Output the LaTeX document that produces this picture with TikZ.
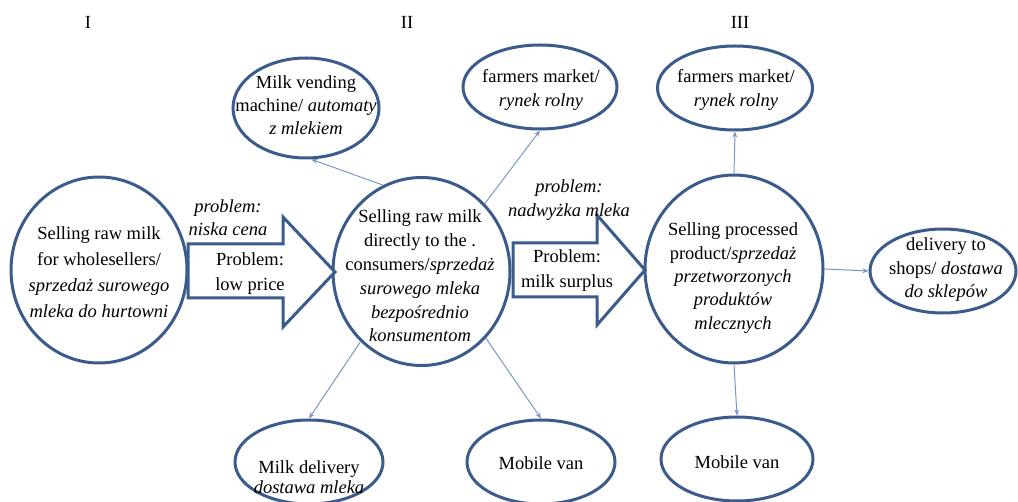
\documentclass[tikz,border=0pt]{standalone}
\usepackage{fontspec}
\setmainfont{Liberation Serif}
\usetikzlibrary{shapes.geometric,arrows.meta}
\definecolor{ring}{HTML}{3B5B8C}
\definecolor{link}{HTML}{7B96C4}
\begin{document}
\begin{tikzpicture}[x=1pt,y=-1pt,
  oval/.style={ellipse,draw=ring,line width=3pt,fill=white,inner sep=0pt},
  txt/.style={align=center,inner sep=0pt,font=\fontsize{18.5}{#1}\selectfont},
  txt/.default=24,
  conn/.style={draw=link,line width=1pt,-{Stealth[length=6pt,width=5pt,open]}},
  bigarrow/.style={draw=ring,line width=3pt,fill=white,line join=miter}
]
\useasboundingbox (0,0) rectangle (1018,502);

% roman numerals
\node[txt] (n1) at (88,22) {I};
\node[txt] (n2) at (407,22) {II};
\node[txt] (n3) at (740,22) {III};

% main ellipses
\node[oval,minimum width=176pt,minimum height=186pt] (left) at (99,270) {};
\node[oval,minimum width=177pt,minimum height=188pt] (mid) at (421.5,271.5) {};
\node[oval,minimum width=178pt,minimum height=188pt] (right) at (734,269) {};
\node[oval,minimum width=146pt,minimum height=84pt] (deliv) at (943,271) {};

% satellite ellipses
\node[oval,minimum width=146pt,minimum height=100pt] (vend) at (306,108) {};
\node[oval,minimum width=154pt,minimum height=84pt] (fm1) at (540,87) {};
\node[oval,minimum width=155pt,minimum height=84pt] (fm2) at (735,88) {};
\node[oval,minimum width=148pt,minimum height=84pt] (mdel) at (309,462) {};
\node[oval,minimum width=148pt,minimum height=84pt] (mv1) at (541,462) {};
\node[oval,minimum width=152pt,minimum height=84pt] (mv2) at (737,459) {};

% big arrows
\draw[bigarrow] (188,244) -- (283,244) -- (283,217) -- (335,272) -- (283,327) -- (283,298) -- (188,298) -- cycle;
\draw[bigarrow] (513,243) -- (597,243) -- (597,215) -- (645,270) -- (597,325) -- (597,297) -- (513,297) -- cycle;

% texts
\node[txt=26] (tleft) at (99,272) {Selling raw milk\\for wholesellers/\\\textit{sprzedaż surowego}\\\textit{mleka do hurtowni}};
\node[txt=23.8] (tmid) at (420,276) {Selling raw milk\\directly to the .\\consumers/\textit{sprzedaż}\\\textit{surowego mleka}\\\textit{bezpośrednio}\\\textit{konsumentom}};
\node[txt=23.3] (tright) at (733,278) {Selling processed\\product/\textit{sprzedaż}\\\textit{przetworzonych}\\\textit{produktów}\\\textit{mlecznych}};
\node[txt=23.5] (tdeliv) at (946,270) {delivery to\\shops/ \textit{dostawa}\\\textit{do sklepów}};
\node[txt=23] (tvend) at (306,105) {Milk vending\\machine/ \textit{automaty}\\\textit{z mlekiem}};
\node[txt=24] (tfm1) at (541,90) {farmers market/\\\textit{rynek rolny}};
\node[txt=24] (tfm2) at (736,90) {farmers market/\\\textit{rynek rolny}};
\node[txt=20] (tmdel) at (309,477) {Milk delivery\\\textit{dostawa mleka}};
\node[txt] (tmv1) at (541,463) {Mobile van};
\node[txt] (tmv2) at (737,462) {Mobile van};

% problem labels
\node[txt=23] (p1) at (228,218) {\textit{problem:}\\\textit{niska cena}};
\node[txt=25] (q1) at (250,274) {Problem:\\low price};
\node[txt=24] (p2) at (569,200) {\textit{problem:}\\\textit{nadwyżka mleka}};
\node[txt=25] (q2) at (567,271) {Problem:\\milk surplus};

% connectors
\draw[conn] (mid.114) -- (vend.-84);
\draw[conn] (mid.47) -- (fm1.south);
\draw[conn] (mid.-131) -- (mdel.north);
\draw[conn] (mid.-46) -- (mv1.north);
\draw[conn] (right.north) -- (fm2.south);
\draw[conn] (right.south) -- (mv2.north);
\draw[conn] (right.east) -- (deliv.west);
\end{tikzpicture}
\end{document}
